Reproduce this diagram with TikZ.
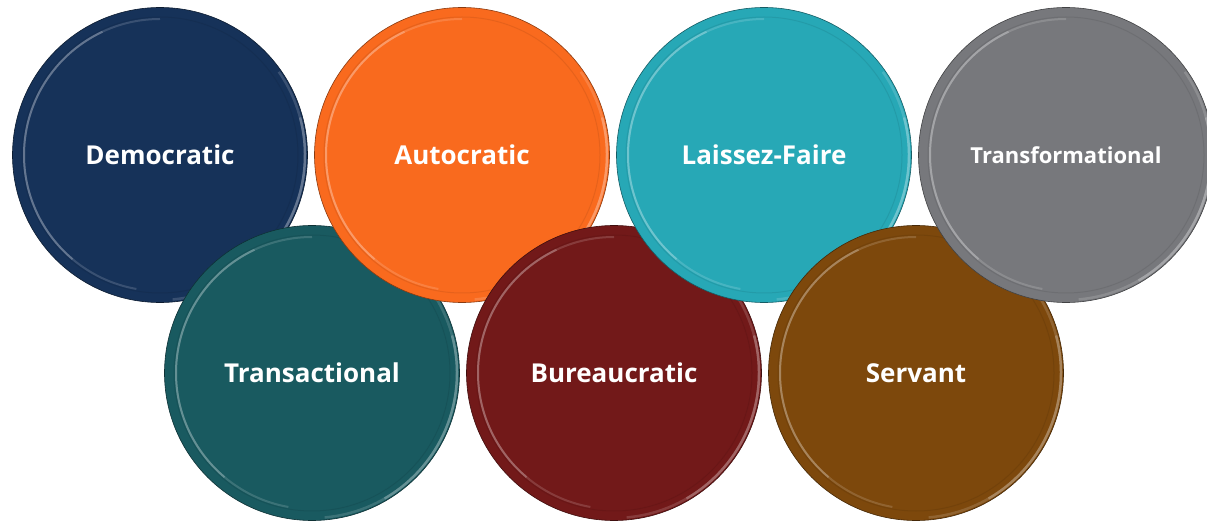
\documentclass[tikz,border=0pt]{standalone}
\usepackage{fontspec}
\setmainfont{Open Sans}
\usepackage{xcolor}
\usepackage{tikz}
\usetikzlibrary{positioning,calc}

\definecolor{demblue}{HTML}{163259}
\definecolor{autorange}{HTML}{F96A1E}
\definecolor{lfteal}{HTML}{27A8B6}
\definecolor{tfgray}{HTML}{77787C}
\definecolor{trgreen}{HTML}{195A60}
\definecolor{bured}{HTML}{721919}
\definecolor{servbrown}{HTML}{7D480C}

\begin{document}
\begin{tikzpicture}[
    x=1pt, y=1pt,
    disc/.style={circle, minimum size=295pt, inner sep=0pt, outer sep=0pt,
      fill=#1, draw=#1!55!black, line width=0.6pt,
      text=white, font=\bfseries\fontsize{26}{30}\selectfont,
      path picture={
        % faint bevel ring
        \draw[#1!85!black, opacity=0.5, line width=1pt]
          (path picture bounding box.center) circle (138pt);
        % light edge of the ring, upper left (two passes, softer ends)
        \draw[#1!50!white, opacity=0.3, line width=2pt]
          ([shift={(90:136pt)}]path picture bounding box.center)
          arc[start angle=90, end angle=260, radius=136pt];
        \draw[#1!40!white, opacity=0.4, line width=2pt]
          ([shift={(115:136pt)}]path picture bounding box.center)
          arc[start angle=115, end angle=230, radius=136pt];
        % light rim, lower right
        \draw[#1!50!white, opacity=0.3, line width=2.5pt]
          ([shift={(-85:145pt)}]path picture bounding box.center)
          arc[start angle=-85, end angle=35, radius=145pt];
        \draw[#1!40!white, opacity=0.4, line width=2.5pt]
          ([shift={(-60:145pt)}]path picture bounding box.center)
          arc[start angle=-60, end angle=15, radius=145pt];
      }},
    node distance=7pt
  ]
    \useasboundingbox (0,0) rectangle (1207,-521);
    % top row and bottom row, drawn in zigzag order
    \node[disc=demblue] (dem) at (160,-155) {Democratic};
    \node[disc=trgreen] (trans) at ($(dem)+(152,-218)$) {Transactional};
    \node[disc=autorange, right=of dem] (aut) {Autocratic};
    \node[disc=bured, right=of trans] (bur) {Bureaucratic};
    \node[disc=lfteal, right=of aut] (lf) {Laissez-Faire};
    \node[disc=servbrown, right=of bur] (serv) {Servant};
    \node[disc=tfgray, right=of lf, font=\bfseries\fontsize{22}{26}\selectfont] (tf) {Transformational};
  \end{tikzpicture}
\end{document}
